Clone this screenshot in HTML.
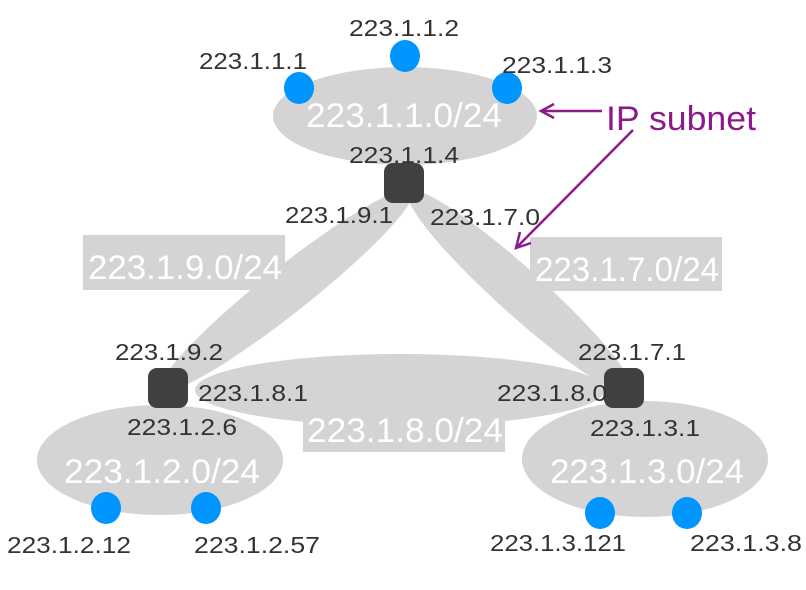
<!DOCTYPE html>
<html><head><meta charset="utf-8"><style>
html,body{margin:0;padding:0;background:#fff;}
svg{display:block;}
.l{font-family:"Liberation Sans",sans-serif;font-size:23px;fill:#333;}
.b{font-family:"Liberation Sans",sans-serif;font-size:34px;fill:#fff;}
</style></head><body>
<svg width="806" height="590" viewBox="0 0 806 590" xmlns="http://www.w3.org/2000/svg">
<g fill="#d4d4d4">
<ellipse cx="287" cy="290" rx="160" ry="23" transform="rotate(141.6 287 290)"/>
<ellipse cx="520" cy="292" rx="150" ry="23" transform="rotate(42 520 292)"/>
<ellipse cx="405" cy="116" rx="132" ry="49"/>
<ellipse cx="400" cy="390" rx="205" ry="36"/>
<ellipse cx="160" cy="460" rx="123" ry="55"/>
<ellipse cx="645" cy="459" rx="123" ry="58"/>
<rect x="83" y="235" width="202" height="55"/>
<rect x="530" y="237" width="192" height="54"/>
<rect x="303" y="412" width="202" height="40"/>
</g>
<g fill="#404040">
<rect x="384" y="163" width="40" height="40" rx="9"/>
<rect x="148" y="368" width="40" height="40" rx="9"/>
<rect x="604" y="368" width="40" height="40" rx="9"/>
</g>
<g fill="#0095ff">
<ellipse cx="299" cy="88" rx="15" ry="16"/>
<ellipse cx="405" cy="56" rx="15" ry="16"/>
<ellipse cx="507" cy="88" rx="15" ry="16"/>
<ellipse cx="106" cy="508" rx="15" ry="16"/>
<ellipse cx="206" cy="508" rx="15" ry="16"/>
<ellipse cx="600" cy="513" rx="15" ry="16"/>
<ellipse cx="687" cy="513" rx="15" ry="16"/>
</g>
<g stroke="#8b1a8b" stroke-width="2.5" fill="none">
<line x1="602" y1="111" x2="544" y2="111"/>
<polyline points="554,104 541,111 554,118"/>
<line x1="633" y1="130" x2="518" y2="246"/>
<polyline points="520,232 516,248 531,243"/>
</g>
<text x="606" y="130" font-family="Liberation Sans,sans-serif" font-size="34" fill="#8b1a8b" textLength="150" lengthAdjust="spacingAndGlyphs">IP subnet</text>
<g class="l">
<text x="349" y="36" textLength="110" lengthAdjust="spacingAndGlyphs">223.1.1.2</text>
<text x="199" y="69" textLength="108" lengthAdjust="spacingAndGlyphs">223.1.1.1</text>
<text x="502" y="73" textLength="110" lengthAdjust="spacingAndGlyphs">223.1.1.3</text>
<text x="349" y="163" textLength="110" lengthAdjust="spacingAndGlyphs">223.1.1.4</text>
<text x="285" y="223" textLength="108" lengthAdjust="spacingAndGlyphs">223.1.9.1</text>
<text x="430" y="225" textLength="110" lengthAdjust="spacingAndGlyphs">223.1.7.0</text>
<text x="115" y="360" textLength="108" lengthAdjust="spacingAndGlyphs">223.1.9.2</text>
<text x="578" y="360" textLength="108" lengthAdjust="spacingAndGlyphs">223.1.7.1</text>
<text x="198" y="401" textLength="110" lengthAdjust="spacingAndGlyphs">223.1.8.1</text>
<text x="497" y="401" textLength="110" lengthAdjust="spacingAndGlyphs">223.1.8.0</text>
<text x="127" y="435" textLength="110" lengthAdjust="spacingAndGlyphs">223.1.2.6</text>
<text x="590" y="436" textLength="110" lengthAdjust="spacingAndGlyphs">223.1.3.1</text>
<text x="7" y="553" textLength="124" lengthAdjust="spacingAndGlyphs">223.1.2.12</text>
<text x="194" y="553" textLength="126" lengthAdjust="spacingAndGlyphs">223.1.2.57</text>
<text x="490" y="551" textLength="136" lengthAdjust="spacingAndGlyphs">223.1.3.121</text>
<text x="690" y="551" textLength="112" lengthAdjust="spacingAndGlyphs">223.1.3.8</text>
</g>
<g class="b">
<text x="306" y="127" textLength="196" lengthAdjust="spacingAndGlyphs">223.1.1.0/24</text>
<text x="88" y="279" textLength="194" lengthAdjust="spacingAndGlyphs">223.1.9.0/24</text>
<text x="535" y="281" textLength="184" lengthAdjust="spacingAndGlyphs">223.1.7.0/24</text>
<text x="307" y="442" textLength="196" lengthAdjust="spacingAndGlyphs">223.1.8.0/24</text>
<text x="64" y="483" textLength="196" lengthAdjust="spacingAndGlyphs">223.1.2.0/24</text>
<text x="550" y="483" textLength="194" lengthAdjust="spacingAndGlyphs">223.1.3.0/24</text>
</g>
</svg>
</body></html>
